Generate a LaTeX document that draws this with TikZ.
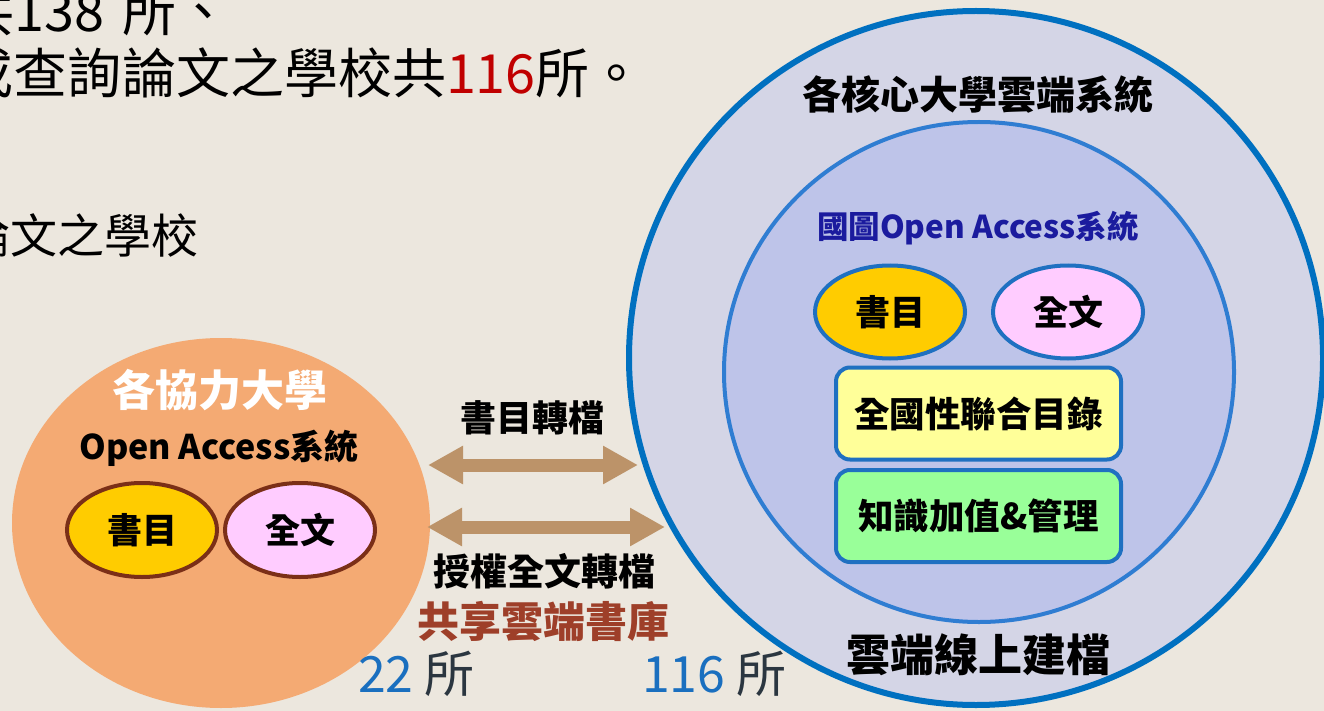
\documentclass[tikz,border=0pt]{standalone}
\usepackage{fontspec}
\setmainfont{Noto Sans CJK TC}
\usetikzlibrary{shapes.geometric,arrows.meta}
\definecolor{bgc}{HTML}{ECE7DE}
\definecolor{orangec}{HTML}{F4AA73}
\definecolor{brownc}{HTML}{7B2F17}
\definecolor{yellowc}{HTML}{FFCC00}
\definecolor{pinkc}{HTML}{FFCCFF}
\definecolor{outerfill}{HTML}{D4D5E6}
\definecolor{outerline}{HTML}{0070C0}
\definecolor{innerfill}{HTML}{BEC4E9}
\definecolor{innerline}{HTML}{2F7DD2}
\definecolor{boxline}{HTML}{1F70C1}
\definecolor{lyellow}{HTML}{FFFF99}
\definecolor{lgreen}{HTML}{99FF99}
\definecolor{tanc}{HTML}{BC9369}
\definecolor{dblue}{HTML}{1B1B9E}
\definecolor{libred}{HTML}{9E3F29}
\definecolor{numblue}{HTML}{1A6FBF}
\definecolor{redc}{HTML}{C00000}
\definecolor{suoc}{HTML}{2B3640}
\newcommand\myfs[1]{\fontsize{#1pt}{#1pt}\selectfont}
\tikzset{
  plain/.style={inner sep=0pt, outer sep=0pt},
  lbl/.style={inner sep=0pt, font=\bfseries\myfs{#1}},
  oval/.style={ellipse, minimum width=150pt, minimum height=93pt, line width=4pt, inner sep=0pt, font=\bfseries\myfs{35}},
  boxr/.style={rectangle, rounded corners=14pt, draw=boxline, line width=4pt, minimum width=285pt, minimum height=92pt, font=\bfseries\myfs{35.5}},
  tanarrow/.style={draw=tanc, line width=13pt, {Triangle[width=36pt,length=35pt]}-{Triangle[width=36pt,length=35pt]}}
}
\begin{document}
\begin{tikzpicture}[x=1pt,y=-1pt]
\useasboundingbox (0,0) rectangle (1324,711);
\clip (0,0) rectangle (1324,711);
\fill[bgc] (0,0) rectangle (1324,711);
% top-left text
\node[plain, anchor=base west, font=\myfs{54}] (t1) at (-39,32) {共138\hspace{18pt}所、};
\node[plain, anchor=base west, font=\myfs{54}] (t2) at (-40,94) {或查詢論文之學校共{\color{redc}116}所。};
\node[plain, anchor=base west, font=\myfs{47}] (t3) at (-36,254) {論文之學校};
% left ellipse
\node[ellipse, fill=orangec, minimum width=418pt, minimum height=370pt, plain] (coop) at (221,523) {};
\node[lbl=43, text=white] (coopt) at (220,390) {各協力大學};
\node[lbl=34] (coopoa) at (219,448) {Open Access系統};
\node[oval, draw=brownc, fill=yellowc, minimum height=94pt] (lbib) at (142,530) {書目};
\node[oval, draw=brownc, fill=pinkc, minimum height=94pt] (lfull) at (300,530) {全文};
% right circles
\node[circle, draw=outerline, fill=outerfill, line width=6pt, minimum size=694pt, plain] (core) at (976,358) {};
\node[ellipse, draw=innerline, fill=innerfill, line width=4pt, minimum width=510pt, minimum height=500pt, plain] (ncl) at (979,372) {};
\node[lbl=39] (coret) at (978,95) {各核心大學雲端系統};
\node[lbl=31.5, text=dblue] (nclt) at (978,228) {國圖Open Access系統};
\node[oval, draw=boxline, fill=yellowc] (rbib) at (890,312) {書目};
\node[oval, draw=boxline, fill=pinkc] (rfull) at (1068,312) {全文};
\node[boxr, fill=lyellow] (union) at (978.5,413.5) {全國性聯合目錄};
\node[boxr, fill=lgreen] (know) at (978.5,516) {知識加值\&管理};
\node[lbl=44] (online) at (978,655) {雲端線上建檔};
% arrows
\coordinate (u1) at (428,465);
\coordinate (u2) at (638,465);
\coordinate (d1) at (427,527);
\coordinate (d2) at (665,527);
\draw[tanarrow] (u1) -- (u2);
\draw[tanarrow] (d1) -- (d2);
\node[lbl=36] (bibconv) at (532,418) {書目轉檔};
\node[lbl=37] (fullconv) at (544,571) {授權全文轉檔};
\node[lbl=42, text=libred] (share) at (543,621) {共享雲端書庫};
\node[plain, anchor=base west, font=\myfs{50}] (n22) at (358,692) {{\color{numblue}22} {\color{suoc}所}};
\node[plain, anchor=base west, font=\myfs{50}] (n116) at (642,692) {{\color{numblue}116} {\color{suoc}所}};
\end{tikzpicture}
\end{document}
